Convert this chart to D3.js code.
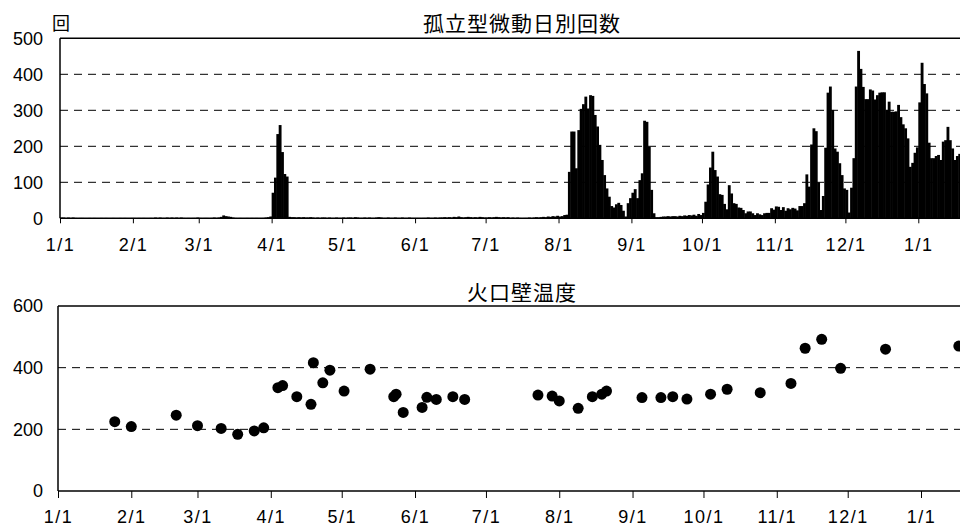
<!DOCTYPE html>
<meta charset="utf-8">
<script src="https://d3js.org/d3.v7.min.js"></script>
<style>
  body { margin: 0; background: #fff; }
  text { font-family: "Liberation Sans", Arial, sans-serif; fill: #000; }
  .jp { font-family: "Noto Sans CJK JP", sans-serif; }
</style>
<div id="chart"></div>
<script>

// daily counts of isolated tremor (one array per month, starting 1/1)
var cJan = [2,2,1,2,1,2,1,0,1,1,0,0,1,0,1,0,0,1,0,1,0,0,1,0,0,1,0,1,0,0,1];
var cFeb = [1,0,1,0,1,0,0,1,0,2,1,2,1,1,2,1,2,1,2,1,2,1,0,1,0,1,1,2];
var cMar = [1,0,1,1,0,1,2,1,2,4,8,6,5,4,2,1,0,1,0,0,1,0,1,0,1,0,0,1,2,3,5];
var cApr = [71,113,234,259,184,123,116,4,3,3,2,3,2,3,2,2,3,2,1,2,1,2,2,1,2,1,1,2,1,1];
var cMay = [2,1,2,2,1,3,2,1,1,2,1,2,1,1,2,3,2,1,1,2,1,1,2,1,1,2,1,1,2,1,1];
var cJun = [1,1,0,1,1,2,1,1,2,1,2,2,3,2,3,2,4,3,5,3,2,3,4,3,2,3,2,4,3,2];
var cJul = [2,3,2,3,4,3,2,3,2,3,1,2,1,2,1,0,1,1,2,1,2,3,2,3,4,3,5,4,6,5,7];
var cAug = [5,6,9,10,129,241,241,139,245,304,317,338,305,342,340,287,255,204,162,120,83,60,34,30,39,43,37,21,5,42,56];
var cSep = [71,81,56,106,125,271,268,199,79,14,3,3,4,5,5,6,5,6,6,5,7,6,8,7,9,8,10,7,12,9];
var cOct = [15,46,94,141,185,134,116,67,65,40,25,92,69,42,40,30,29,23,14,19,19,14,9,14,11,9,14,15,15,28,24];
var cNov = [33,32,23,31,21,28,25,29,27,22,34,34,42,122,88,205,250,242,100,23,62,196,349,366,301,194,185,153,120,83];
var cDec = [79,16,85,167,366,465,415,365,331,331,358,355,330,342,349,350,350,301,324,296,296,297,315,281,261,250,222,143,154,182,197];
var cJanNext = [322,432,373,347,210,167,167,173,176,162,213,217,254,217,194,162,173,179];

// crater wall temperature
var tempDates = ["2021-01-25","2021-02-01","2021-02-20","2021-03-01","2021-03-11","2021-03-18","2021-03-25","2021-03-29",
  "2021-04-04","2021-04-06","2021-04-12","2021-04-18","2021-04-19","2021-04-23","2021-04-26","2021-05-02","2021-05-13",
  "2021-05-23","2021-05-24","2021-05-27","2021-06-04","2021-06-06","2021-06-10","2021-06-17","2021-06-22",
  "2021-07-23","2021-07-29","2021-08-01","2021-08-09","2021-08-15","2021-08-19","2021-08-21","2021-09-05",
  "2021-09-13","2021-09-18","2021-09-24","2021-10-04","2021-10-11","2021-10-25","2021-11-07","2021-11-13",
  "2021-11-20","2021-11-28","2021-12-17","2022-01-17"];
var tempValues = [225,209,246,212,203,184,195,205,335,342,306,281,416,351,392,324,395,306,314,255,271,304,297,306,297,
  311,308,292,268,306,314,324,303,303,306,298,314,330,319,349,463,492,398,460,470];

var countTicks = [0,100,200,300,400,500];
var tempTicks = [0,200,400,600];

var counts = [].concat(cJan,cFeb,cMar,cApr,cMay,cJun,cJul,cAug,cSep,cOct,cNov,cDec,cJanNext);
var t0 = new Date(Date.UTC(2021,0,1)), t1 = new Date(Date.UTC(2022,0,1));
var monthTicks = d3.utcMonth.range(t0, d3.utcDay.offset(t1, 1));
var fmt = d3.utcFormat("%-m/%-d");

var svg = d3.select("#chart").append("svg")
    .attr("width", 960).attr("height", 528);

// ---------- top panel ----------
var x1 = d3.scaleUtc().domain([t0, t1]).range([60, 918.3]);
var y1 = d3.scaleLinear().domain([0, 500]).range([218.3, 38.3]);

var gTop = svg.append("g");
gTop.selectAll(".grid").data(countTicks.slice(1, 5)).enter().append("line")
    .attr("x1", 60).attr("x2", 960)
    .attr("y1", function(d){ return y1(d); }).attr("y2", function(d){ return y1(d); })
    .attr("stroke", "#000").attr("stroke-width", 1).attr("stroke-dasharray", "8,6");

// bars overlap a little so that neighbouring days read as a solid block
gTop.selectAll(".bar").data(counts).enter().append("rect")
    .attr("x", function(d,i){ return x1(d3.utcDay.offset(t0, i)); })
    .attr("width", function(d,i){ return x1(d3.utcDay.offset(t0, i+1)) - x1(d3.utcDay.offset(t0, i)) + 0.5; })
    .attr("y", function(d){ return y1(d); })
    .attr("height", function(d){ return y1(0) - y1(d); })
    .attr("fill", "#000");

gTop.append("line").attr("x1", 60).attr("x2", 960).attr("y1", 38.3).attr("y2", 38.3)
    .attr("stroke", "#000").attr("stroke-width", 1.5);
gTop.append("line").attr("x1", 60).attr("x2", 60).attr("y1", 38.3).attr("y2", 218.3)
    .attr("stroke", "#000").attr("stroke-width", 1.5);

var ax1 = gTop.append("g").attr("transform", "translate(0,218.3)")
    .call(d3.axisBottom(x1).tickValues(monthTicks).tickFormat(fmt).tickSize(5).tickPadding(15).tickSizeOuter(0));
ax1.select(".domain").attr("d", "M60,0H960").attr("stroke-width", 1.5);
ax1.selectAll("text").style("font-size", "18px").style("letter-spacing", "1.5px");

var ay1 = gTop.append("g").attr("transform", "translate(60,0)")
    .call(d3.axisLeft(y1).tickValues(countTicks).tickSize(0).tickPadding(17));
ay1.select(".domain").remove();
ay1.selectAll("text").style("font-size", "18px");

svg.append("text").attr("class", "jp").attr("x", 52).attr("y", 30)
    .style("font-size", "18px").text("回");
svg.append("text").attr("class", "jp").attr("x", 522).attr("y", 31)
    .attr("text-anchor", "middle").style("font-size", "21px").style("letter-spacing", "1px")
    .text("孤立型微動日別回数");

// ---------- bottom panel ----------
var x2 = d3.scaleUtc().domain([t0, t1]).range([58, 921]);
var y2 = d3.scaleLinear().domain([0, 600]).range([491, 306]);

var gBot = svg.append("g");
gBot.selectAll(".grid").data(tempTicks.slice(1, 3)).enter().append("line")
    .attr("x1", 58).attr("x2", 960)
    .attr("y1", function(d){ return y2(d); }).attr("y2", function(d){ return y2(d); })
    .attr("stroke", "#000").attr("stroke-width", 1).attr("stroke-dasharray", "8,6");

gBot.append("line").attr("x1", 58).attr("x2", 960).attr("y1", 306).attr("y2", 306)
    .attr("stroke", "#000").attr("stroke-width", 1.5);
gBot.append("line").attr("x1", 58).attr("x2", 58).attr("y1", 306).attr("y2", 491)
    .attr("stroke", "#000").attr("stroke-width", 1.5);

var ax2 = gBot.append("g").attr("transform", "translate(0,491)")
    .call(d3.axisBottom(x2).tickValues(monthTicks).tickFormat(fmt).tickSize(7).tickPadding(12).tickSizeOuter(0));
ax2.select(".domain").attr("d", "M58,0H960").attr("stroke-width", 1.5);
ax2.selectAll("text").style("font-size", "18px").style("letter-spacing", "1.5px");

var ay2 = gBot.append("g").attr("transform", "translate(58,0)")
    .call(d3.axisLeft(y2).tickValues(tempTicks).tickSize(0).tickPadding(15));
ay2.select(".domain").remove();
ay2.selectAll("text").style("font-size", "18px");

gBot.selectAll(".dot").data(tempValues).enter().append("circle")
    .attr("cx", function(d,i){ return x2(new Date(tempDates[i] + "T00:00:00Z")); })
    .attr("cy", function(d){ return y2(d); })
    .attr("r", 5.5)
    .attr("fill", "#000");

svg.append("text").attr("class", "jp").attr("x", 522).attr("y", 300)
    .attr("text-anchor", "middle").style("font-size", "21px").style("letter-spacing", "1px")
    .text("火口壁温度");

</script>
